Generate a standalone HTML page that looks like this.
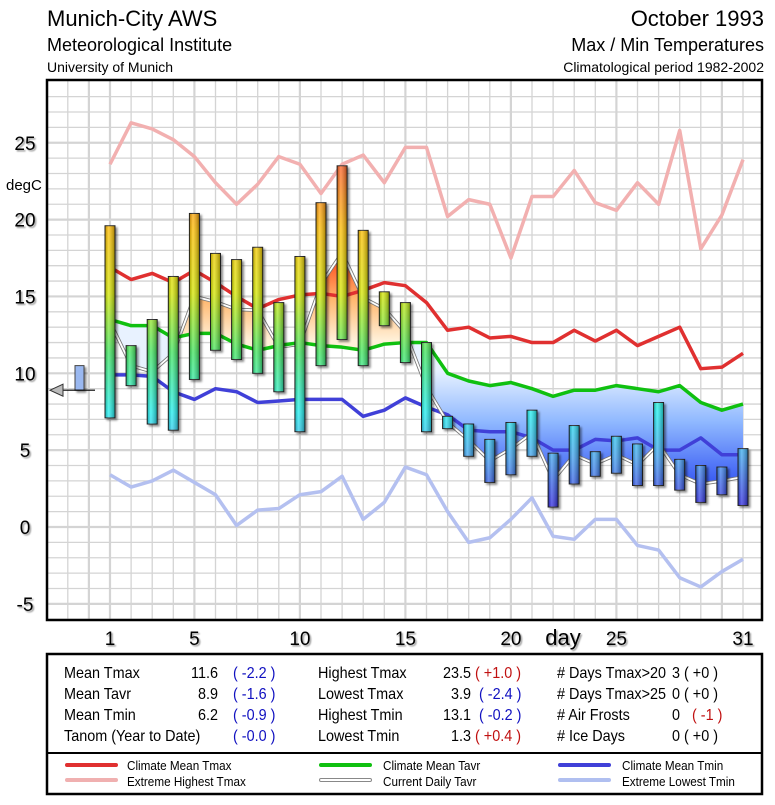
<!DOCTYPE html>
<html><head><meta charset="utf-8"><style>
body{margin:0;background:#fff;}
svg text{font-family:"Liberation Sans",Arial,sans-serif;}
</style></head><body>
<svg id="chart" width="775" height="800" viewBox="0 0 775 800" xmlns="http://www.w3.org/2000/svg">
<defs>
<linearGradient id="barGrad" gradientUnits="userSpaceOnUse" x1="0" y1="160" x2="0" y2="510">
<stop offset="0" stop-color="#ff5a2a"/><stop offset="0.2" stop-color="#ffc000"/><stop offset="0.38" stop-color="#d8e800"/><stop offset="0.55" stop-color="#40e860"/><stop offset="0.72" stop-color="#20f0f0"/><stop offset="0.85" stop-color="#40a0f0"/><stop offset="1" stop-color="#3020e0"/>
</linearGradient>
<linearGradient id="barShade" x1="0" y1="0" x2="1" y2="0">
<stop offset="0" stop-color="#000" stop-opacity="0.25"/><stop offset="0.35" stop-color="#fff" stop-opacity="0.25"/><stop offset="1" stop-color="#000" stop-opacity="0.35"/>
</linearGradient>
<linearGradient id="blueFill" gradientUnits="userSpaceOnUse" x1="0" y1="370" x2="0" y2="500">
<stop offset="0" stop-color="#e8f2ff"/><stop offset="0.4" stop-color="#8fb8ff"/><stop offset="1" stop-color="#2040f0"/>
</linearGradient>
<linearGradient id="orangeFill" gradientUnits="userSpaceOnUse" x1="0" y1="340" x2="0" y2="260">
<stop offset="0" stop-color="#fff0d8"/><stop offset="0.5" stop-color="#ffb870"/><stop offset="1" stop-color="#ff5020"/>
</linearGradient>
<filter id="sh" x="-50%" y="-50%" width="200%" height="200%"><feDropShadow dx="2" dy="2" stdDeviation="1" flood-color="#000" flood-opacity="0.45"/></filter>
<filter id="tsh" x="-20%" y="-20%" width="140%" height="140%"><feDropShadow dx="1.5" dy="1.5" stdDeviation="0.8" flood-color="#000" flood-opacity="0.4"/></filter>
<clipPath id="plotClip"><rect x="48" y="81" width="713" height="538"/></clipPath>
</defs>

<g>
<text x="47" y="26" font-size="22">Munich-City AWS</text>
<text x="47" y="51" font-size="18">Meteorological Institute</text>
<text x="47" y="72" font-size="14">University of Munich</text>
<text x="764" y="26" font-size="22" text-anchor="end">October 1993</text>
<text x="764" y="51" font-size="18" text-anchor="end">Max / Min Temperatures</text>
<text x="764" y="72" font-size="14" text-anchor="end">Climatological period 1982-2002</text>
</g>

<g id="grid" clip-path="url(#plotClip)"></g>
<g id="marks" clip-path="url(#plotClip)"></g>
<rect x="47" y="80" width="715" height="540" fill="none" stroke="#000" stroke-width="2.5"/>
<g id="axes"></g>

<g>
<rect x="47" y="654" width="715" height="140" fill="#fff" stroke="#000" stroke-width="2.5"/>
<line x1="47" y1="753" x2="762" y2="753" stroke="#000" stroke-width="2"/>
<g font-size="16" class="cond">
<text x="64" y="678">Mean Tmax</text><text x="218" y="678" text-anchor="end">11.6</text><text x="233" y="678" fill="#1010c0">( -2.2 )</text>
<text x="64" y="699">Mean Tavr</text><text x="218" y="699" text-anchor="end">8.9</text><text x="233" y="699" fill="#1010c0">( -1.6 )</text>
<text x="64" y="720">Mean Tmin</text><text x="218" y="720" text-anchor="end">6.2</text><text x="233" y="720" fill="#1010c0">( -0.9 )</text>
<text x="64" y="741">Tanom (Year to Date)</text><text x="233" y="741" fill="#1010c0">( -0.0 )</text>
<text x="318" y="678">Highest Tmax</text><text x="471" y="678" text-anchor="end">23.5</text><text x="475" y="678" fill="#c01010">( +1.0 )</text>
<text x="318" y="699">Lowest Tmax</text><text x="471" y="699" text-anchor="end">3.9</text><text x="479" y="699" fill="#1010c0">( -2.4 )</text>
<text x="318" y="720">Highest Tmin</text><text x="471" y="720" text-anchor="end">13.1</text><text x="479" y="720" fill="#1010c0">( -0.2 )</text>
<text x="318" y="741">Lowest Tmin</text><text x="471" y="741" text-anchor="end">1.3</text><text x="475" y="741" fill="#c01010">( +0.4 )</text>
<text x="557" y="678"># Days Tmax&gt;20</text><text x="672" y="678">3 ( +0 )</text>
<text x="557" y="699"># Days Tmax&gt;25</text><text x="672" y="699">0 ( +0 )</text>
<text x="557" y="720"># Air Frosts</text><text x="672" y="720">0</text><text x="692" y="720" fill="#c01010">( -1 )</text>
<text x="557" y="741"># Ice Days</text><text x="672" y="741">0 ( +0 )</text>
</g>
</g>

<g font-size="13" class="cond">
<g><line x1="67" y1="765" x2="116" y2="765" stroke="#e03030" stroke-width="4" stroke-linecap="round"/><text x="127" y="770">Climate Mean Tmax</text></g>
<g><line x1="67" y1="780" x2="116" y2="780" stroke="#f0b0b0" stroke-width="4" stroke-linecap="round"/><text x="127" y="786">Extreme Highest Tmax</text></g>
<g><line x1="321" y1="765" x2="370" y2="765" stroke="#10c010" stroke-width="4" stroke-linecap="round"/><text x="383" y="770">Climate Mean Tavr</text></g>
<g><line x1="321" y1="780" x2="370" y2="780" stroke="#888" stroke-width="4" stroke-linecap="round"/><line x1="321" y1="780" x2="370" y2="780" stroke="#fff" stroke-width="2" stroke-linecap="round"/><text x="383" y="786">Current Daily Tavr</text></g>
<g><line x1="560" y1="765" x2="609" y2="765" stroke="#4040d8" stroke-width="4" stroke-linecap="round"/><text x="622" y="770">Climate Mean Tmin</text></g>
<g><line x1="560" y1="780" x2="609" y2="780" stroke="#b0bff0" stroke-width="4" stroke-linecap="round"/><text x="622" y="786">Extreme Lowest Tmin</text></g>
</g>

<script>
const days = [1,2,3,4,5,6,7,8,9,10,11,12,13,14,15,16,17,18,19,20,21,22,23,24,25,26,27,28,29,30,31];
const tmax = [19.6,11.8,13.5,16.3,20.4,17.8,17.4,18.2,14.6,17.6,21.1,23.5,19.3,15.3,14.6,12.0,7.2,6.7,5.7,6.8,7.6,4.8,6.6,4.9,5.9,5.4,8.1,4.4,4.0,3.9,5.1];
const tmin = [7.1,9.2,6.7,6.3,9.6,11.5,10.9,10.0,8.8,6.2,10.5,12.2,10.5,13.1,10.7,6.2,6.4,4.6,2.9,3.4,4.6,1.3,2.8,3.3,3.5,2.7,2.7,2.4,1.6,2.1,1.4];
const climTmax = [16.9,16.1,16.5,15.9,16.7,15.9,15.0,14.2,14.8,15.1,15.2,15.0,15.4,15.9,15.7,14.6,12.8,13.0,12.3,12.4,12.0,12.0,12.8,12.1,12.8,11.8,12.4,13.0,10.3,10.4,11.3];
const climTavr = [13.5,13.1,13.1,12.3,12.6,12.6,11.9,11.5,11.8,12.0,11.8,11.7,11.5,11.9,12.0,12.0,10.0,9.5,9.2,9.4,9.0,8.5,8.9,8.9,9.2,9.0,8.8,9.2,8.1,7.6,8.0];
const climTmin = [9.9,9.9,9.8,8.8,8.3,9.0,8.8,8.1,8.2,8.3,8.3,8.3,7.2,7.6,8.4,7.8,7.3,6.3,6.2,6.2,5.8,5.0,5.0,5.7,5.6,5.8,5.0,5.0,5.8,4.7,4.7];
const extHigh = [23.6,26.3,25.9,25.2,24.1,22.4,21.0,22.3,24.1,23.6,21.7,23.6,24.2,22.4,24.7,24.7,20.2,21.3,21.0,17.5,21.5,21.5,23.2,21.1,20.6,22.4,21.0,25.8,18.1,20.3,23.9];
const extLow = [3.4,2.6,3.0,3.7,2.9,2.1,0.1,1.1,1.2,2.1,2.3,3.3,0.5,1.6,3.9,3.4,1.0,-1.0,-0.7,0.5,1.9,-0.6,-0.8,0.5,0.5,-1.2,-1.5,-3.3,-3.9,-2.9,-2.1];
const yTicks = [-5,0,5,10,15,20,25];
const xTicks = [1,5,10,15,20,25,31];
const monthMeanTavr = 8.9;
const monthClimTavr = 10.5;

const NS = "http://www.w3.org/2000/svg";
const X = d => 110 + (d - 1) * 21.1;
const Y = v => 527 - v * 15.37;
function mk(tag, attrs, parent){const e=document.createElementNS(NS,tag);for(const k in attrs)e.setAttribute(k,attrs[k]);parent.appendChild(e);return e;}
const grid = document.getElementById('grid'), marks = document.getElementById('marks'), axes = document.getElementById('axes');

for (let v = -6; v <= 28; v++) {
  const l = mk('line',{x1:47,x2:762,y1:Y(v),y2:Y(v),stroke:'#d4d4d4','stroke-width':(v%5===0)?2.2:1.3},grid);
  
  
}
for (let d = -2; d <= 32; d++) {
  const l = mk('line',{x1:X(d),x2:X(d),y1:80,y2:620,stroke:'#d4d4d4','stroke-width':(d%5===0||d===1)?2.2:1.3},grid);
  
  
}

yTicks.forEach(v=>{
  const t = mk('text',{x:25,y:Y(v)+7,'font-size':19,'text-anchor':'middle',filter:'url(#tsh)'},axes);
  t.textContent = v;
  
  
});
const yt = mk('text',{x:6,y:190,'font-size':15},axes); yt.textContent='degC';


xTicks.forEach(d=>{
  const t = mk('text',{x:X(d),y:645,'font-size':19,'text-anchor':'middle',filter:'url(#tsh)'},axes);
  t.textContent = d;
  
  
});
const xt = mk('text',{x:563,y:645,'font-size':22,'text-anchor':'middle',filter:'url(#tsh)'},axes); xt.textContent='day';



const pts = arr => arr.map((v,i)=>X(days[i])+','+Y(v)).join(' ');
const tavr = tmax.map((v,i)=>(v+tmin[i])/2);

const areaPts = pts(tavr) + ' ' + climTavr.map((v,i)=>[X(days[i]),Y(v)]).reverse().map(p=>p.join(',')).join(' ');
const defs = document.querySelector('defs');
const above = mk('clipPath',{id:'aboveClim'},defs);
mk('polygon',{points:'47,80 47,'+Y(climTavr[0])+' '+pts(climTavr)+' 762,'+Y(climTavr[30])+' 762,80'},above);
const below = mk('clipPath',{id:'belowClim'},defs);
mk('polygon',{points:'47,620 47,'+Y(climTavr[0])+' '+pts(climTavr)+' 762,'+Y(climTavr[30])+' 762,620'},below);
const fo = mk('polygon',{points:areaPts,fill:'url(#orangeFill)','clip-path':'url(#aboveClim)'},marks);


const fb = mk('polygon',{points:areaPts,fill:'url(#blueFill)','clip-path':'url(#belowClim)'},marks);



function line(arr,color,w,name){
  const p = mk('polyline',{points:pts(arr),fill:'none',stroke:color,'stroke-width':w,'stroke-linejoin':'round'},marks);
  
  
  return p;
}
line(extHigh,'#f2b0b0',3.5,'extreme-highest-tmax-line');
line(extLow,'#b4c0f0',3.5,'extreme-lowest-tmin-line');
line(climTmax,'#e03030',3.5,'climate-mean-tmax-line');
line(climTmin,'#4040d8',3.5,'climate-mean-tmin-line');
line(tavr,'#777',3.5,'current-tavr-outline');
line(tavr,'#fff',1.8,'current-daily-tavr-line');
line(climTavr,'#10c010',3.5,'climate-mean-tavr-line');

days.forEach((d,i)=>{
  const g = mk('g',{filter:'url(#sh)'},marks);
  
  
  const x = X(d)-5, y1 = Y(tmax[i]), y2 = Y(tmin[i]);
  mk('rect',{x:x,y:y1,width:10,height:Math.max(1,y2-y1),fill:'url(#barGrad)',stroke:'#222','stroke-width':1},g);
  mk('rect',{x:x,y:y1,width:10,height:Math.max(1,y2-y1),fill:'url(#barShade)'},g);
});

const mg = mk('g',{},marks);


mk('rect',{x:75,y:Y(monthClimTavr),width:9,height:Y(monthMeanTavr)-Y(monthClimTavr),fill:'#9ab8f0',stroke:'#444','stroke-width':1,filter:'url(#sh)'},mg);
mk('line',{x1:58,x2:95,y1:Y(monthMeanTavr),y2:Y(monthMeanTavr),stroke:'#000','stroke-width':1.2},mg);
mk('polygon',{points:'50,'+Y(monthMeanTavr)+' 63,'+(Y(monthMeanTavr)-6)+' 63,'+(Y(monthMeanTavr)+6),fill:'#bbb',stroke:'#333','stroke-width':1},mg);

// condense table/legend text (reference font is narrower)
document.querySelectorAll('.cond text').forEach(t=>{
  const w = t.getComputedTextLength();
  if (w > 0) { t.setAttribute('textLength', (w*0.9).toFixed(1)); t.setAttribute('lengthAdjust','spacingAndGlyphs'); }
});
</script>
</svg>
</body></html>
